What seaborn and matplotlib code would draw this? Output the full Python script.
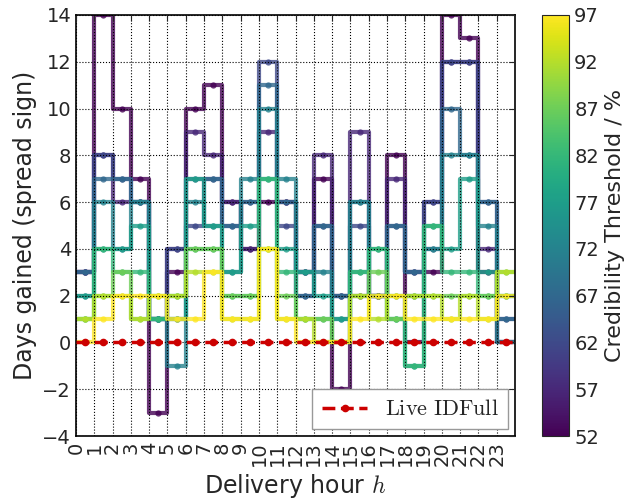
import pandas as pd
import seaborn as sns
import matplotlib as mpl
import matplotlib.pyplot as plt

# Delivery hours and credibility thresholds (%)
hours = list(range(24))
thresholds = [52, 57, 62, 67, 72, 77, 82, 87, 92, 97]

# Days gained per delivery hour, one list per threshold
gain_52 = [3, 14, 10, 7, -3, 3, 10, 11, 6, 4, 6, 6, 3, 7, -2, 2, 2, 8, 0, 3, 14, 13, 3, 0]
gain_57 = [3, 8, 6, 6, 1, 4, 9, 8, 6, 4, 9, 6, 3, 8, 2, 9, 2, 7, 3, 6, 12, 12, 4, 0]
gain_62 = [3, 8, 7, 6, 1, 4, 5, 7, 5, 6, 12, 5, 2, 5, 2, 5, 2, 5, 3, 6, 12, 12, 6, 1]
gain_67 = [3, 7, 7, 6, 1, 1, 7, 7, 5, 6, 11, 6, 2, 5, 2, 6, 2, 5, 3, 4, 10, 8, 6, 1]
gain_72 = [2, 6, 4, 6, 1, -1, 6, 5, 3, 7, 10, 7, 3, 3, 1, 6, 2, 2, 2, 4, 8, 8, 5, 0]
gain_77 = [2, 4, 4, 5, 1, 1, 7, 5, 3, 5, 7, 4, 3, 2, 1, 3, 4, 1, -1, 5, 4, 7, 3, 2]
gain_82 = [1, 4, 3, 3, 1, 2, 4, 4, 2, 2, 7, 3, 1, 1, 0, 3, 4, 1, -1, 5, 3, 3, 2, 2]
gain_87 = [1, 2, 3, 1, 2, 2, 4, 4, 2, 2, 4, 2, 1, 1, 0, 2, 3, 1, 2, 2, 2, 2, 2, 3]
gain_92 = [1, 2, 2, 1, 2, 2, 3, 3, 1, 1, 4, 1, 1, 0, 0, 2, 1, 2, 2, 2, 1, 2, 1, 3]
gain_97 = [0, 1, 2, 2, 2, 1, 1, 3, 1, 1, 4, 1, 0, 0, 0, 1, 2, 2, 1, 1, 1, 1, 1, 2]
live_idfull = [0, 0, 0, 0, 0, 0, 0, 0, 0, 0, 0, 0, 0, 0, 0, 0, 0, 0, 0, 0, 0, 0, 0, 0]

gains = [gain_52, gain_57, gain_62, gain_67, gain_72,
         gain_77, gain_82, gain_87, gain_92, gain_97]

sns.set_style('white')
plt.rcParams['font.family'] = ['DejaVu Sans']
plt.rcParams['mathtext.fontset'] = 'cm'

# long table; each line is padded to the axis edges (0 and 24)
rows = []
for thr, vals in zip(thresholds, gains):
    xs = [0] + [h + 0.5 for h in hours] + [24]
    ys = [vals[0]] + vals + [vals[-1]]
    for x, y in zip(xs, ys):
        rows.append({'hour': x, 'gain': y, 'threshold': thr})
df = pd.DataFrame(rows)

fig = plt.figure(figsize=(6.39, 5.0), dpi=100)
ax = fig.add_axes([0.119, 0.128, 0.687, 0.842])
cax = fig.add_axes([0.848, 0.128, 0.043, 0.842])

norm = mpl.colors.Normalize(vmin=52, vmax=97)
sns.lineplot(data=df, x='hour', y='gain', hue='threshold', palette='viridis',
             hue_norm=norm, drawstyle='steps-mid', marker='o', markersize=4.5,
             markeredgewidth=0, markevery=slice(1, -1), linewidth=3, alpha=0.8,
             legend=False, sort=False, estimator=None, ax=ax)

live_x = [0] + [h + 0.5 for h in hours] + [24]
live_y = [live_idfull[0]] + live_idfull + [live_idfull[-1]]
ax.plot(live_x, live_y, color='#cc0000', linestyle='--', linewidth=2.5,
        marker='o', markersize=4.5, markevery=slice(1, -1), zorder=5,
        label=r'$\mathrm{Live\ IDFull}$')

ax.set_xlim(0, 24)
ax.set_ylim(-4, 14)
ax.set_xticks(hours)
ax.set_xticklabels([str(h) for h in hours], rotation=90)
ax.set_yticks(range(-4, 15, 2))
ax.tick_params(direction='in', top=True, right=True, labelsize=14, length=4)
ax.tick_params(axis='x', pad=4)
ax.set_axisbelow(False)
ax.grid(True, color='black', linestyle=':', linewidth=0.8)
for sp in ax.spines.values():
    sp.set_color('black')
    sp.set_linewidth(1.2)

ax.set_xlabel(r'Delivery hour $h$', fontsize=17)
ax.set_ylabel('Days gained (spread sign)', fontsize=17)

leg = ax.legend(loc='lower right', fontsize=16, fancybox=False, framealpha=1,
                borderaxespad=0.3, borderpad=0.45, handlelength=2.0)
leg.get_frame().set_edgecolor('#999999')

sm = mpl.cm.ScalarMappable(norm=norm, cmap='viridis')
cb = fig.colorbar(sm, cax=cax, ticks=thresholds)
cb.set_label('Credibility Threshold / %', fontsize=16)
cb.ax.tick_params(labelsize=14, direction='in', length=0)
cb.outline.set_linewidth(0.8)

fig.savefig('out.png', dpi=100)
